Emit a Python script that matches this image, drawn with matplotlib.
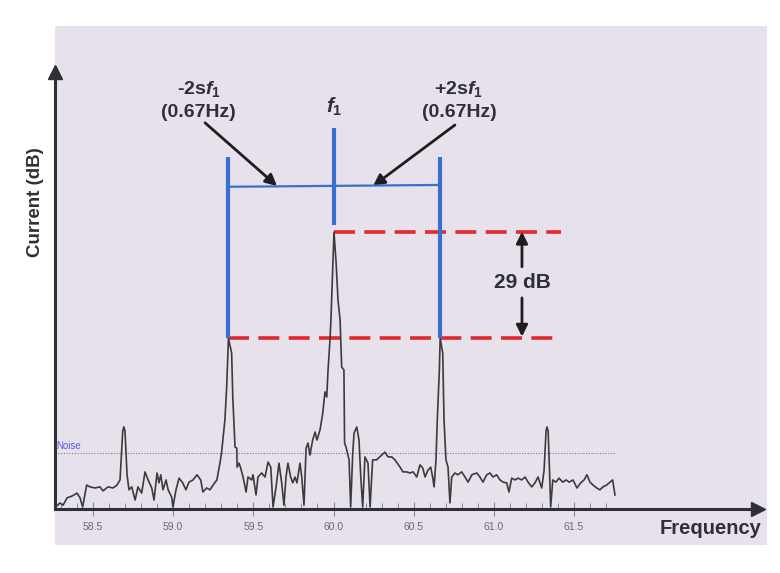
import matplotlib
matplotlib.use("Agg")
import matplotlib.pyplot as plt
from matplotlib.patches import Rectangle

# spectrum trace (frequency in Hz, level in dB above the axis)
freq = [58.267, 58.295, 58.314, 58.339, 58.370, 58.401, 58.420, 58.436, 58.461, 58.482,
        58.513, 58.544, 58.563, 58.594, 58.625, 58.650, 58.669, 58.686, 58.693, 58.700, 58.713,
        58.725, 58.742, 58.763, 58.781, 58.804, 58.825, 58.844, 58.867, 58.881, 58.900,
        58.912, 58.923, 58.937, 58.956, 58.969, 58.991, 58.999, 59.018, 59.037, 59.060,
        59.080, 59.099, 59.124, 59.149, 59.172, 59.186, 59.209, 59.230, 59.249, 59.273,
        59.292, 59.302, 59.323, 59.334, 59.345, 59.365, 59.372, 59.386, 59.397, 59.399,
        59.411, 59.421, 59.436, 59.455, 59.467, 59.490, 59.498, 59.517, 59.529, 59.552,
        59.573, 59.592, 59.609, 59.623, 59.642, 59.660, 59.677, 59.691, 59.704, 59.716,
        59.733, 59.746, 59.760, 59.772, 59.791, 59.802, 59.816, 59.829, 59.841, 59.853,
        59.870, 59.885, 59.897, 59.916, 59.933, 59.947, 59.958, 59.966, 59.978, 59.984,
        59.997, 60.003, 60.016, 60.028, 60.041, 60.051, 60.065, 60.069, 60.078, 60.097,
        60.107, 60.120, 60.128, 60.145, 60.159, 60.170, 60.182, 60.196, 60.215, 60.228,
        60.244, 60.269, 60.300, 60.321, 60.340, 60.363, 60.383, 60.415, 60.433, 60.456,
        60.477, 60.496, 60.519, 60.539, 60.556, 60.571, 60.589, 60.606, 60.618, 60.627,
        60.639, 60.647, 60.660, 60.665, 60.681, 60.689, 60.701, 60.714, 60.726, 60.737,
        60.757, 60.776, 60.799, 60.820, 60.839, 60.862, 60.893, 60.913, 60.932, 60.955,
        60.976, 60.994, 61.017, 61.038, 61.057, 61.080, 61.094, 61.111, 61.132, 61.150,
        61.173, 61.194, 61.213, 61.236, 61.256, 61.275, 61.298, 61.313, 61.325, 61.331, 61.338,
        61.346, 61.354, 61.367, 61.387, 61.406, 61.429, 61.450, 61.470, 61.493, 61.518,
        61.541, 61.562, 61.580, 61.599, 61.618, 61.641, 61.661, 61.680, 61.703, 61.724,
        61.740, 61.755]
level = [0.0, 1.1, 0.5, 2.5, 3.0, 3.8, 2.5, 0.0, 6.0, 5.5,
         5.2, 5.5, 4.4, 5.5, 5.2, 6.0, 7.4, 20.8, 21.9, 20.8, 8.8,
         4.7, 5.5, 1.9, 5.5, 3.8, 9.6, 7.4, 5.2, 1.9, 9.3,
         6.6, 8.8, 4.7, 7.4, 4.7, 2.7, 0.0, 4.7, 7.9, 6.6,
         4.7, 6.8, 7.4, 8.8, 7.4, 4.1, 5.2, 4.7, 6.0, 7.4,
         12.0, 14.8, 23.8, 32.8, 46.2, 42.1, 30.1, 16.4, 16.1, 10.9,
         12.0, 10.7, 8.2, 4.1, 8.2, 7.4, 8.8, 3.3, 8.2, 9.3,
         8.2, 12.3, 10.9, 0.0, 5.5, 12.0, 6.6, 0.5, 8.2, 12.0,
         8.2, 6.6, 8.2, 6.6, 12.0, 8.2, 0.5, 16.1, 17.5, 14.2,
         18.3, 20.5, 18.3, 21.1, 25.7, 31.5, 30.1, 37.5, 45.7, 51.2,
         67.6, 75.2, 67.0, 56.6, 51.2, 38.3, 37.5, 17.5, 16.4, 12.9,
         0.0, 14.8, 20.2, 21.9, 18.3, 8.2, 0.0, 13.7, 12.0, 0.0,
         12.9, 12.9, 14.2, 15.0, 13.7, 13.7, 12.9, 10.9, 9.6, 9.6,
         9.3, 9.6, 8.2, 11.5, 10.7, 8.2, 10.1, 10.9, 8.2, 5.5,
         12.9, 23.8, 37.5, 46.2, 42.1, 23.8, 12.9, 10.9, 1.1, 8.2,
         9.3, 8.8, 9.6, 8.2, 6.8, 8.8, 9.3, 8.2, 6.8, 8.8,
         9.3, 8.2, 8.8, 7.4, 6.8, 6.6, 4.1, 7.9, 7.4, 7.9,
         7.4, 8.2, 6.8, 5.5, 6.6, 8.2, 5.2, 10.1, 20.8, 21.9, 20.8,
         10.9, 0.0, 7.4, 6.8, 7.9, 6.8, 7.4, 6.8, 7.4, 5.2,
         6.6, 7.4, 8.8, 6.8, 6.0, 5.2, 4.7, 5.5, 6.0, 6.8,
         7.4, 3.3]

f1 = 60.003
sidebands = [59.345, 60.665]
f1_level = 75.2
sideband_level = 46.2
noise_level = 14.8

major_ticks = [58.5, 59.0, 59.5, 60.0, 60.5, 61.0, 61.5]
major_labels = ["58.5", "59.0", "59.5", "60.0", "60.5", "61.0", "61.5"]
minor_ticks = [58.3, 58.4, 58.6, 58.7, 58.8, 58.9, 59.1, 59.2, 59.3, 59.4,
               59.6, 59.7, 59.8, 59.9, 60.1, 60.2, 60.3, 60.4, 60.6, 60.7,
               60.8, 60.9, 61.1, 61.2, 61.3, 61.4, 61.6, 61.7]

plt.rcParams['font.family'] = ['Liberation Sans', 'DejaVu Sans']
plt.rcParams['mathtext.fontset'] = 'custom'
plt.rcParams['mathtext.rm'] = 'Liberation Sans:bold'
plt.rcParams['mathtext.it'] = 'Liberation Sans:bold:italic'

BLUE = '#3a6fcf'
RED = '#e2282c'
DARK = '#2f2f38'

fig = plt.figure(figsize=(7.8, 5.73), dpi=100, facecolor='white')
fig.patches.append(Rectangle((55 / 780, 28 / 573), 712 / 780, 519 / 573,
                             transform=fig.transFigure, facecolor='#e6e1eb',
                             edgecolor='none', zorder=-10))

ax = fig.add_axes([55 / 780, 64 / 573, 703 / 780, 437 / 573])
ax.set_zorder(1)
ax.set_facecolor('none')
ax.set_xlim(58.2637, 62.6465)
ax.set_ylim(-0.55, 119.0)

for s in ['top', 'right']:
    ax.spines[s].set_visible(False)
for s in ['left', 'bottom']:
    ax.spines[s].set_linewidth(2.2)
    ax.spines[s].set_color(DARK)
ax.plot(1, -0.55, marker='>', ms=10, color=DARK, transform=ax.get_yaxis_transform(), clip_on=False)
ax.plot(58.2637, 1, marker='^', ms=10, color=DARK, transform=ax.get_xaxis_transform(), clip_on=False)

ax.set_yticks([])
ax.set_xticks(major_ticks)
ax.set_xticklabels(major_labels)
ax.set_xticks(minor_ticks, minor=True)
ax.tick_params(axis='x', which='major', direction='inout', length=10, width=0.8,
               color='#888888', labelsize=7.5, labelcolor='#6a6a6a', pad=4)
ax.tick_params(axis='x', which='minor', direction='in', length=4, width=0.7, color='#888888')

# noise floor
ax.plot([58.2637, 61.76], [noise_level, noise_level], ls=(0, (1, 1.5)), lw=0.8, color='#7c7c95')
ax.text(58.272, noise_level + 0.6, 'Noise', fontsize=7, color='#5b5be0', va='bottom')

# spectrum
ax.plot(freq, level, color='#3b3b3b', lw=1.2, zorder=3)

# blue markers
ax.plot([sidebands[0]] * 2, [sideband_level, 95.8], color=BLUE, lw=3, solid_capstyle='butt', zorder=4)
ax.plot([sidebands[1]] * 2, [sideband_level, 95.8], color=BLUE, lw=3, solid_capstyle='butt', zorder=4)
ax.plot([f1, f1], [77.2, 103.7], color=BLUE, lw=3, solid_capstyle='butt', zorder=4)
ax.plot(sidebands, [87.6, 88.1], color=BLUE, lw=1.6, zorder=4)

# red dashed levels
ax.plot([f1, 61.42], [f1_level, f1_level], color=RED, lw=2.6, dashes=(5.8, 2.6), zorder=2)
ax.plot([sidebands[0], 61.395], [sideband_level, sideband_level], color=RED, lw=2.6,
        dashes=(5.8, 2.6), zorder=2)

arrow = dict(arrowstyle='-|>', color='#1e1e1e', lw=2.0, mutation_scale=17, shrinkA=0, shrinkB=0)
ax.annotate('', xy=(59.648, 87.8), xytext=(59.199, 105.1), arrowprops=arrow)
ax.annotate('', xy=(60.246, 87.8), xytext=(60.757, 104.5), arrowprops=arrow)
ax.annotate('', xy=(61.175, 75.3), xytext=(61.175, 65.7), arrowprops=arrow)
ax.annotate('', xy=(61.175, 46.6), xytext=(61.175, 57.2), arrowprops=arrow)

txt = dict(color=DARK, fontweight='bold', ha='center', va='center')
ax.text(59.162, 114.4, '-2s$f_1$', fontsize=14, **txt)
ax.text(59.155, 107.8, '(0.67Hz)', fontsize=14, **txt)
ax.text(60.776, 114.4, '+2s$f_1$', fontsize=14, **txt)
ax.text(60.782, 107.8, '(0.67Hz)', fontsize=14, **txt)
ax.text(f1, 109.4, '$f_1$', fontsize=15, **txt)
ax.text(61.175, 61.3, '29 dB', fontsize=15, **txt)

fig.text(35 / 780, 1 - 202 / 573, 'Current (dB)', rotation=90, fontsize=13.5, **txt)
fig.text(711 / 780, 1 - 528 / 573, 'Frequency', fontsize=14.5, **txt)

fig.savefig('out.png', dpi=100, facecolor='white')
